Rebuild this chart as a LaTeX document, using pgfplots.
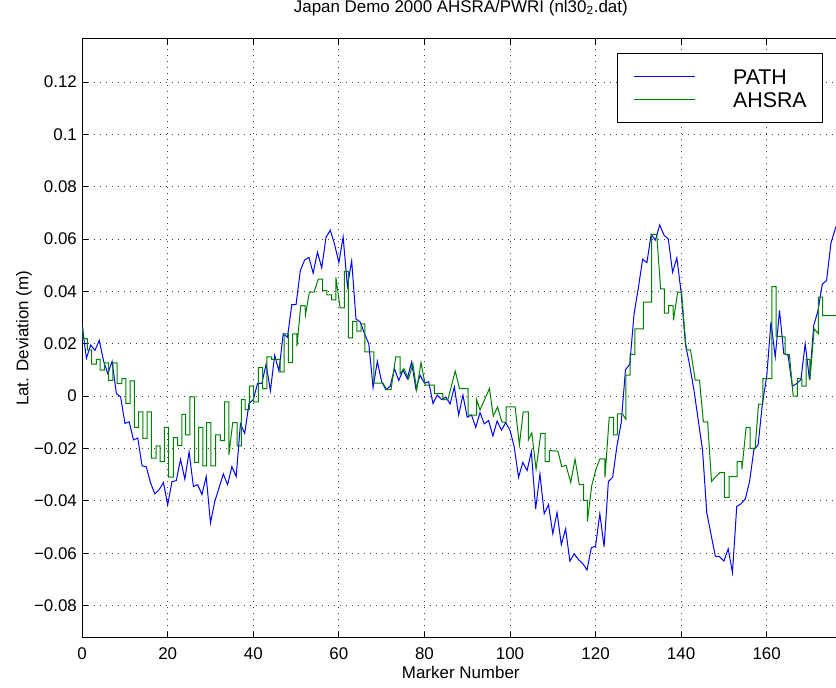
\documentclass[border=0pt]{standalone}
\usepackage{fontspec}
\setmainfont{Liberation Sans}
\usepackage{pgfplots}
\pgfplotsset{compat=1.18}
\definecolor{mblue}{rgb}{0,0,1}
\definecolor{mgreen}{rgb}{0,0.5,0}
\begin{document}
\begin{tikzpicture}
\begin{axis}[
  x=3.209pt, y=1963.9pt,
  xmin=0, xmax=177, ymin=-0.0923, ymax=0.1365,
  axis line style={black, line width=0.75pt},
  tick style={black, line width=0.6pt},
  major tick length=4.5pt,
  tick align=inside,
  ytick pos=left,
  xtick={0,20,40,60,80,100,120,140,160},
  xticklabels={0,20,40,60,80,100,120,140,160},
  ytick={-0.08,-0.06,-0.04,-0.02,0,0.02,0.04,0.06,0.08,0.1,0.12},
  yticklabels={−0.08,−0.06,−0.04,−0.02,0,0.02,0.04,0.06,0.08,0.1,0.12},
  tick label style={font=\fontsize{12.7}{15}\selectfont},
  xticklabel style={anchor=base, yshift=-16.5pt, inner sep=0pt},
  yticklabel style={anchor=east, xshift=-3.75pt, inner sep=0pt},
  grid=major,
  grid style={dash pattern=on 0.75pt off 3.75pt, black!75, line width=0.6pt},
  title={Japan Demo 2000 AHSRA/PWRI (nl30\textsubscript{2}.dat)},
  title style={at={(0.5,1.0312)}, anchor=base, inner sep=0pt, font=\fontsize{12.7}{15}\selectfont},
  xlabel={Marker Number},
  xlabel style={at={(0.5,-0.0684)}, anchor=base, inner sep=0pt, font=\fontsize{12.7}{15}\selectfont},
  ylabel={Lat. Deviation (m)},
  ylabel style={at={(-0.0709,0.5)}, anchor=base, rotate=0, inner sep=0pt, font=\fontsize{12.7}{15}\selectfont},
  legend cell align=left,
  legend style={at={(0.9785,0.9757)}, anchor=north east,
    inner xsep=12pt, inner ysep=8.9pt, row sep=0pt,
    font=\fontsize{16}{17}\selectfont,
    nodes={inner sep=0pt, text height=14.2pt, text depth=2.8pt}},
  every axis legend/.append style={line width=0.75pt},
]
\addplot[draw=mblue, line width=0.75pt,
  legend image code/.code={\draw[mblue, line width=0.75pt] (0pt,0.375pt) -- (45.75pt,0.375pt); \path (74.25pt,0pt);}] coordinates {
(0,0.027)(1,0.0145)(2,0.0195)(3,0.0175)(4,0.0213)(5,0.0135)(6,0.0086)(7,0.0133)(8,0.001)(9,-0.0003)
(10,-0.0104)(11,-0.0098)(12,-0.0167)(13,-0.016)(14,-0.0266)(15,-0.027)(16,-0.0332)(17,-0.0373)(18,-0.0357)(19,-0.033)
(20,-0.0415)(21,-0.0326)(22,-0.0323)(23,-0.0241)(24,-0.0317)(25,-0.0213)(26,-0.0345)(27,-0.0338)(28,-0.0376)(29,-0.0307)
(30,-0.0484)(31,-0.0402)(32,-0.035)(33,-0.0297)(34,-0.0338)(35,-0.0269)(36,-0.0307)(37,-0.0106)(38,-0.0142)(39,-0.0028)
(40,-0.0013)(41,0.0048)(42,0.0049)(43,0.0122)(44,0.002)(45,0.0156)(46,0.0096)(47,0.0238)(48,0.0225)(49,0.035)
(50,0.035)(51,0.048)(52,0.052)(53,0.053)(54,0.047)(55,0.055)(56,0.049)(57,0.0606)(58,0.0634)(59,0.058)
(60,0.051)(61,0.0608)(62,0.042)(63,0.0517)(64,0.0295)(65,0.0283)(66,0.0238)(67,0.020)(68,0.0033)(69,0.0133)
(70,0.0055)(71,0.0025)(72,0.0038)(73,0.0105)(74,0.006)(75,0.0099)(76,0.0067)(77,0.013)(78,0.0029)(79,0.008)
(80,0.005)(81,0.0055)(82,-0.0028)(83,0.0004)(84,-0.0013)(85,-0.0003)(86,-0.003)(87,0.0035)(88,-0.0072)(89,0.0004)
(90,-0.008)(91,-0.0072)(92,-0.0119)(93,-0.0063)(94,-0.0106)(95,-0.0093)(96,-0.0152)(97,-0.0095)(98,-0.013)(99,-0.0101)
(100,-0.013)(101,-0.0195)(102,-0.031)(103,-0.0253)(104,-0.0284)(105,-0.0212)(106,-0.0431)(107,-0.0297)(108,-0.0449)(109,-0.0414)
(110,-0.0525)(111,-0.0444)(112,-0.0567)(113,-0.0507)(114,-0.063)(115,-0.0602)(116,-0.0624)(117,-0.0639)(118,-0.0664)(119,-0.0579)
(120,-0.0573)(121,-0.0449)(122,-0.0575)(123,-0.0326)(124,-0.031)(125,-0.019)(126,-0.0101)(127,0.0101)(128,0.0122)(129,0.0314)
(130,0.0413)(131,0.0523)(132,0.051)(133,0.0618)(134,0.0596)(135,0.0654)(136,0.0615)(137,0.060)(138,0.0473)(139,0.0528)
(140,0.0397)(141,0.020)(142,0.0118)(143,0.0023)(144,-0.0091)(145,-0.0205)(146,-0.0446)(147,-0.0529)(148,-0.0611)(149,-0.0613)
(150,-0.063)(151,-0.0583)(152,-0.0674)(153,-0.0421)(154,-0.0411)(155,-0.0393)(156,-0.0326)(157,-0.0205)(158,-0.0186)(159,-0.0028)
(160,0.0074)(161,0.0283)(162,0.015)(163,0.0327)(164,0.0162)(165,0.0156)(166,0.0038)(167,0.0048)(168,0.0063)(169,0.020)
(170,0.0063)(171,0.027)(172,0.0327)(173,0.0428)(174,0.0441)(175,0.0583)(176,0.0638)(177,0.068)
};
\addlegendentry{PATH}
\addplot[draw=mgreen, line width=0.75pt,
  legend image code/.code={\draw[mgreen, line width=0.75pt] (0pt,0.375pt) -- (45.75pt,0.375pt); \path (74.25pt,0pt);}] coordinates {
(0,0.026)(0.2,0.026)(0.2,0.022)(1.2,0.022)(1.2,0.0177)(2.2,0.0177)(2.2,0.0122)(3.3,0.0122)(3.3,0.014)(4.2,0.014)
(4.2,0.0099)(5.2,0.0099)(5.2,0.0127)(6.2,0.0127)(6.2,0.006)(7.2,0.006)(7.2,0.0127)(8.2,0.0127)(8.2,0.0048)(9.3,0.0048)
(9.3,0.0067)(10.2,0.0067)(10.2,-0.0028)(11.2,-0.0028)(11.2,0.0058)(12.2,0.0058)(12.2,-0.0119)(13.2,-0.0119)(13.2,-0.006)(14.2,-0.006)
(14.2,-0.0161)(15.2,-0.0161)(15.2,-0.006)(16.2,-0.006)(16.2,-0.0237)(17.3,-0.0237)(17.3,-0.019)(18.2,-0.019)(18.2,-0.025)(19.2,-0.025)
(19.2,-0.0119)(20.2,-0.0119)(20.2,-0.0309)(21.3,-0.0309)(21.3,-0.0158)(22.3,-0.0158)(22.3,-0.0189)(23.3,-0.0189)(23.3,-0.007)(24.2,-0.007)
(24.2,-0.0148)(25.2,-0.0148)(25.2,-0.0003)(26.3,-0.0003)(26.3,-0.0253)(27.2,-0.0253)(27.2,-0.0119)(28.2,-0.0119)(28.2,-0.0266)(29.1,-0.0266)
(29.1,-0.0101)(30.1,-0.0101)(30.1,-0.0266)(31.2,-0.0266)(31.2,-0.0148)(32.3,-0.0148)(32.3,-0.017)(33.3,-0.017)(33.3,-0.0022)(34.3,-0.0022)
(34.3,-0.0224)(35.2,-0.0101)(36.2,-0.0101)(36.2,-0.019)(37.2,-0.019)(37.2,-0.0013)(38.1,-0.0013)(38.1,-0.0051)(39.1,-0.0051)
(39.1,0.0038)(40.1,0.0038)(40.1,-0.0022)(41.2,-0.0022)(41.2,0.0109)(42.2,0.0109)(42.2,0.0029)(43.2,0.0029)(43.2,0.015)(44.3,0.015)
(44.3,0.014)(46.3,0.014)(46.3,0.0093)(47.2,0.0093)(47.2,0.0238)(48.2,0.0238)(48.2,0.0128)(49.2,0.0128)(49.2,0.0238)(50.2,0.0238)
(50.2,0.019)(51.1,0.0346)(52.1,0.0346)(52.2,0.031)(53.1,0.0397)(54.2,0.0397)(55.2,0.0447)(56.2,0.0447)
(56.2,0.0403)(57.2,0.0403)(57.2,0.0387)(58.3,0.0387)(58.3,0.0368)(59.3,0.0368)(59.3,0.0454)(60.3,0.0337)(61.3,0.0337)
(61.3,0.0477)(62.2,0.0477)(62.2,0.0223)(63.2,0.0223)(63.2,0.0286)(64.2,0.0286)(64.2,0.0248)(65.2,0.0248)(65.2,0.0276)(66.1,0.0276)
(66.1,0.0169)(68.2,0.0169)(68.2,0.005)(70.3,0.005)(71.2,0.0025)(72.2,0.0025)(73.3,0.015)(74.3,0.015)(74.3,0.0085)(75.2,0.0105)
(76.3,0.0067)(77.3,0.0124)(78.2,0.0023)(79.2,0.0128)(80.2,0.0042)(82.3,0.0042)(82.3,0.001)(84.3,0.001)(84.3,-0.0013)(85.5,-0.0013)
(87.2,0.0096)(88.2,0.0029)(90.2,0.0029)(90.2,-0.0072)(92.2,-0.0072)(92.2,-0.0013)(93.0,-0.0053)(95.2,0.0029)(96.1,-0.0076)(97.1,-0.0041)
(98.1,-0.0098)(99.1,-0.0101)(99.1,-0.0041)(101.2,-0.0041)(102.2,-0.0186)(103.1,-0.006)(104.3,-0.006)(104.3,-0.0167)(105.1,-0.014)(106.1,-0.0279)
(107.2,-0.0142)(108.2,-0.0142)(108.2,-0.025)(109.2,-0.025)(109.2,-0.0208)(111.2,-0.021)(112.1,-0.0269)(113.1,-0.0264)(114.2,-0.033)(115.2,-0.024)
(116.2,-0.0338)(117.2,-0.0338)(117.2,-0.0398)(118.1,-0.0398)(118.1,-0.0478)(119.1,-0.0342)(120.1,-0.0279)(121,-0.024)(122.2,-0.024)(122.2,-0.031)
(123.2,-0.0081)(124.2,-0.0081)(124.2,-0.0148)(125.1,-0.0148)(125.1,-0.0068)(126.3,-0.0068)(127.1,-0.0089)(127.1,0.008)(128.1,0.008)(128.1,0.016)
(129.2,0.016)(129.2,0.0257)(131.2,0.0257)(131.2,0.0359)(133.1,0.0359)(133.1,0.0618)(134.3,0.0618)(135.2,0.041)(136.1,0.041)(136.1,0.0317)
(137.1,0.0317)(137.1,0.0346)(138.1,0.0346)(138.2,0.029)(139.2,0.0397)(140.1,0.0397)(141.2,0.0177)(142.2,0.0177)(143.3,0.0061)(144.3,0.0061)
(145.2,-0.0098)(146.2,-0.0098)(147.1,-0.0326)(148.1,-0.0307)(149.1,-0.0292)(150.1,-0.0292)(150.1,-0.0387)(151.2,-0.0387)(151.2,-0.0307)(153.1,-0.0307)
(153.1,-0.025)(154.2,-0.025)(154.2,-0.028)(155.2,-0.0119)(156.1,-0.0119)(156.1,-0.0199)(157.3,-0.0199)(158.1,-0.003)(159.1,-0.003)(159.1,0.0067)
(161.2,0.0067)(161.2,0.0418)(162.2,0.0418)(162.2,0.0228)(163.3,0.0228)(164.3,0.0226)(164.3,0.016)(165.3,0.016)(166.2,0.0)(167.2,0.0)
(167.2,0.0067)(168.2,0.0067)(168.2,0.0038)(169.2,0.0038)(169.2,0.014)(170.1,0.014)(170.1,0.0061)(171.1,0.0257)(172.1,0.0238)(172.1,0.0378)
(173.1,0.0378)(173.1,0.0308)(177,0.0308)
};
\addlegendentry{AHSRA}
\coordinate (BL) at (axis cs:-19.2,-0.1114);
\coordinate (TR) at (axis cs:176.2,0.1513);
\end{axis}
\pgfresetboundingbox
\useasboundingbox (BL) rectangle (TR);
\end{tikzpicture}
\end{document}
